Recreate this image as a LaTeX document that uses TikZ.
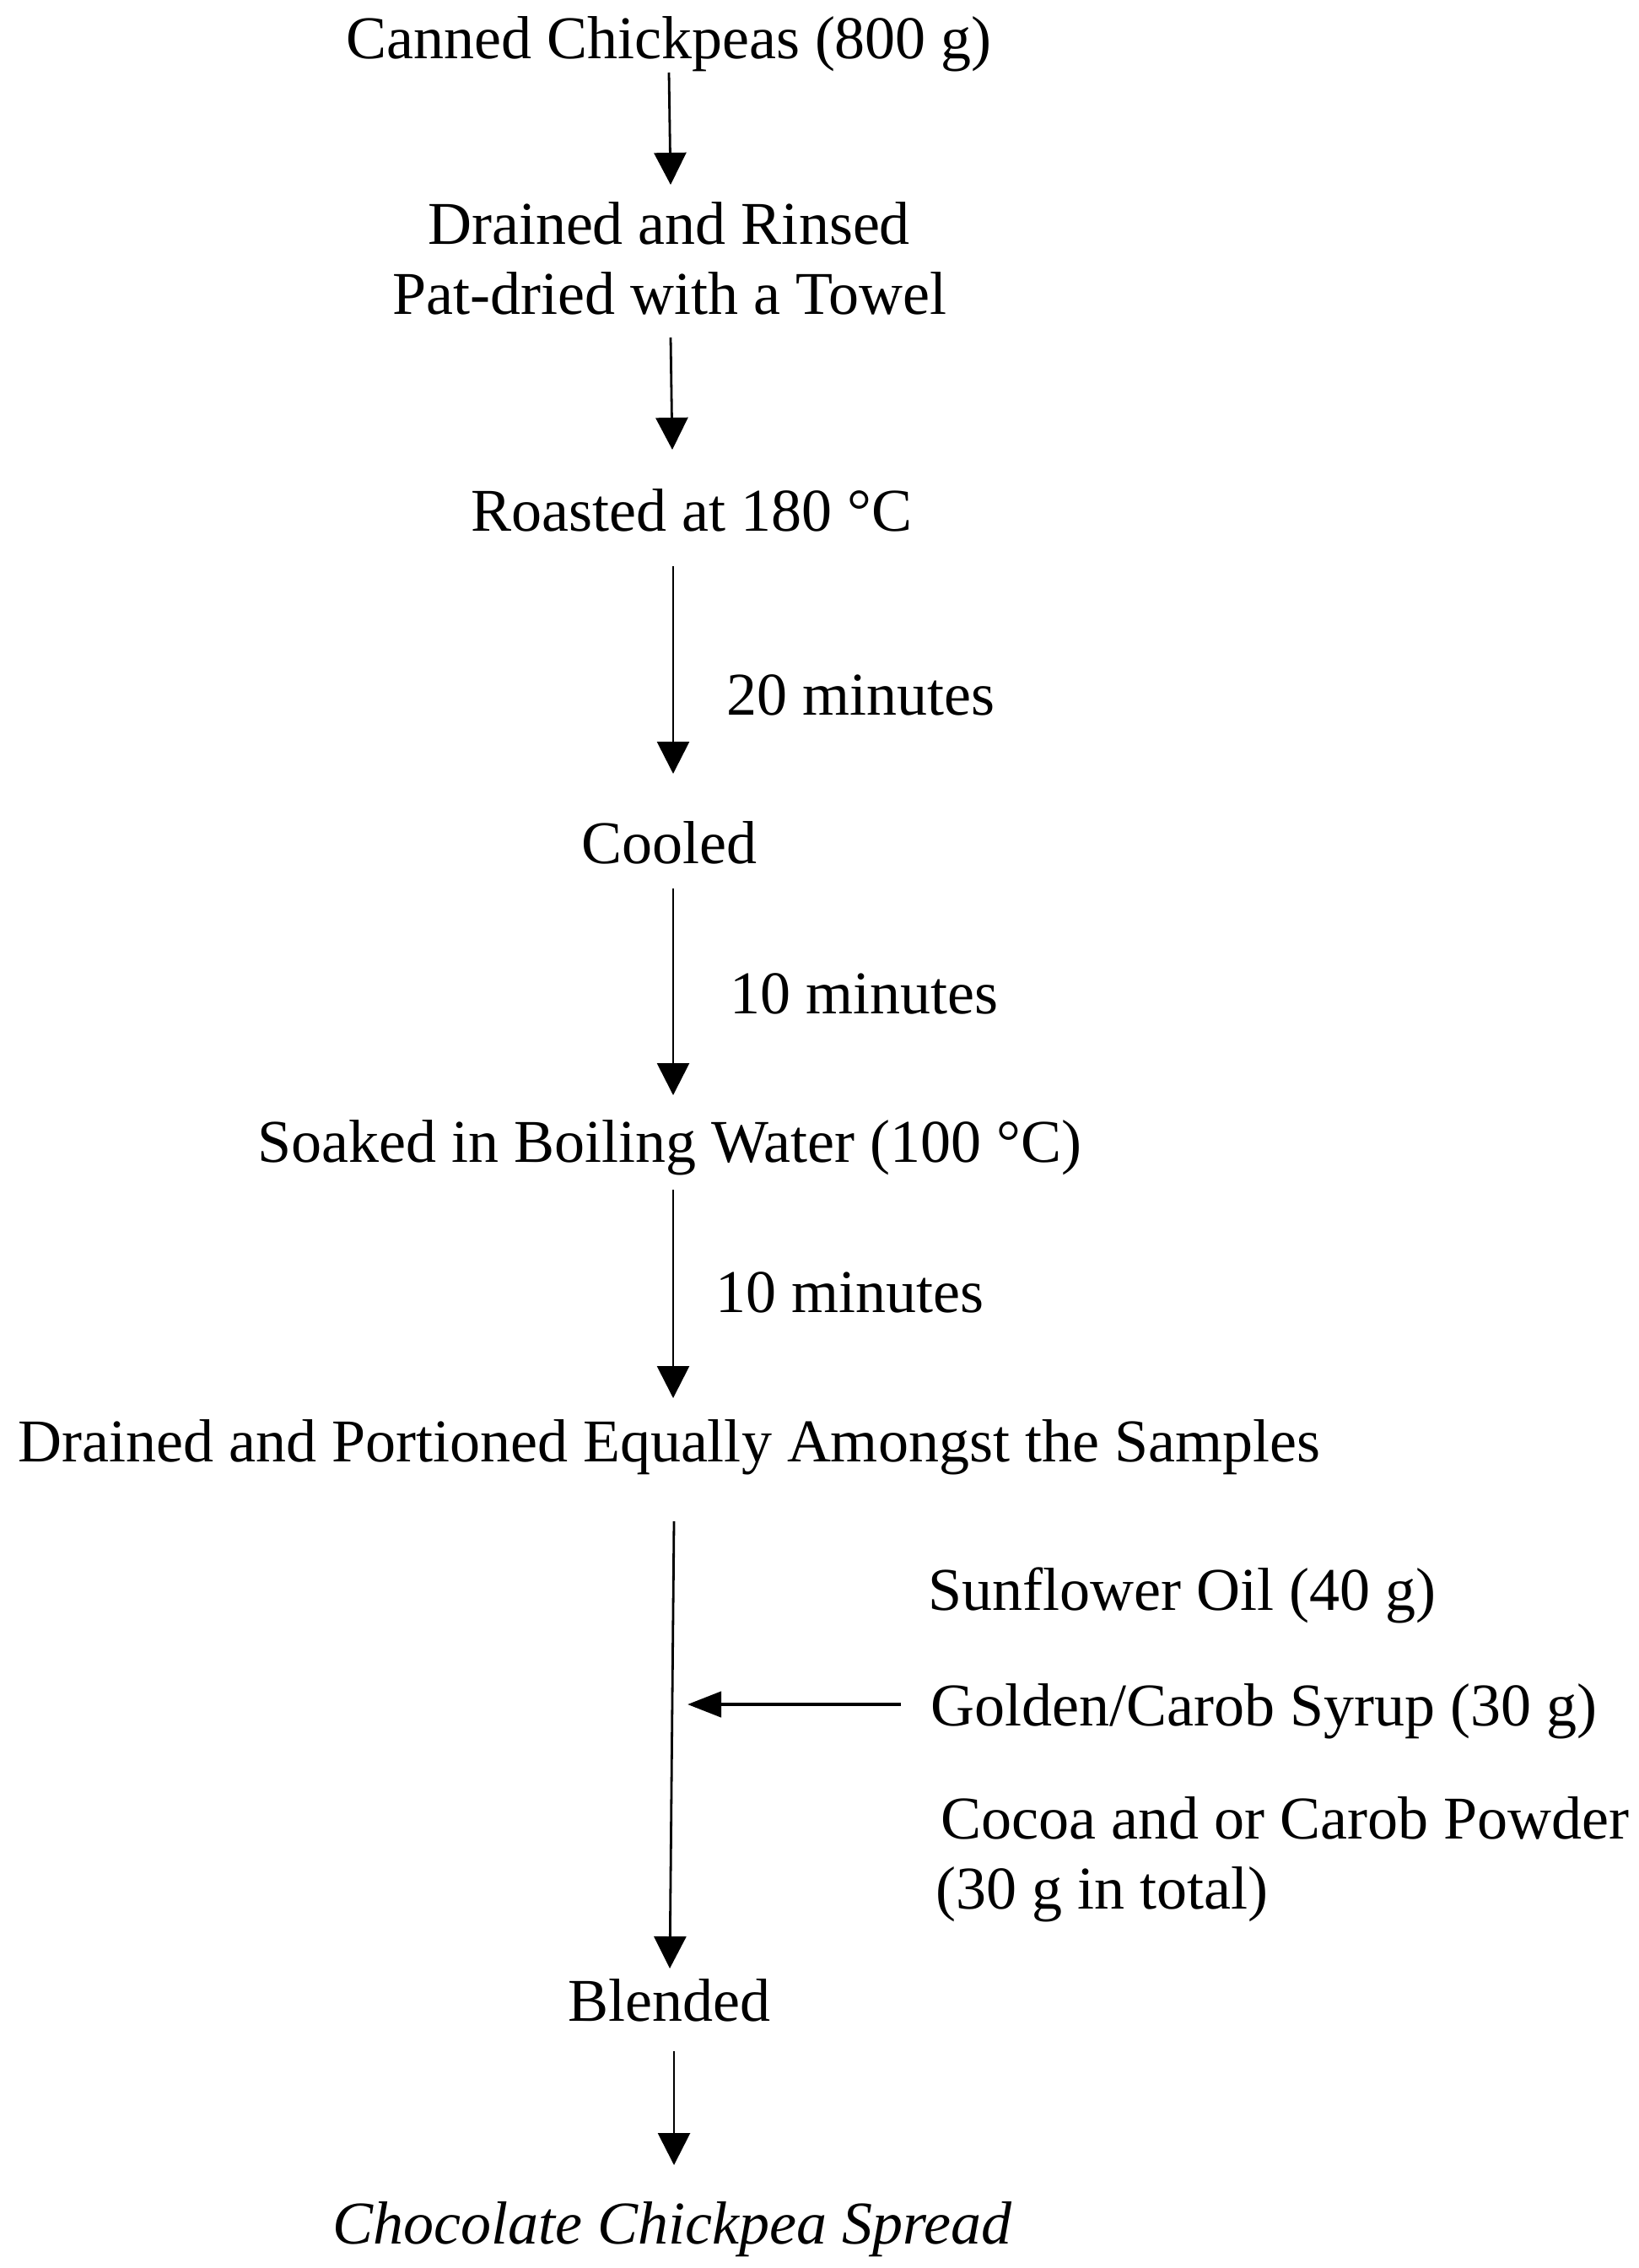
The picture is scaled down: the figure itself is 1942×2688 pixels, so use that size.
\documentclass[tikz,border=0pt]{standalone}
\usepackage{fontspec}
\setmainfont{Liberation Serif}
\usetikzlibrary{arrows.meta,calc}
\begin{document}
\begin{tikzpicture}[x=0.25pt,y=-0.25pt,
  txt/.style={inner sep=0pt, anchor=base, font=\fontsize{18}{20.75}\selectfont},
  lbl/.style={inner sep=0pt, anchor=base west, font=\fontsize{18}{20.75}\selectfont},
  flow/.style={-{Triangle[length=9.5pt,width=9.5pt]}, line width=0.7pt},
  feed/.style={-{Triangle[length=10pt,width=7.5pt]}, line width=1.1pt}]
\useasboundingbox (0,0) rectangle (1942,2688);
% main steps
\node[txt] (a)  at (793,69)   {Canned Chickpeas (800 g)};
\node[txt] (b1) at (793,289)  {Drained and Rinsed};
\node[txt] (b2) at (794,372)  {Pat-dried with a Towel};
\node[txt] (c)  at (820,629)  {Roasted at 180 °C};
\node[txt] (d)  at (793,1023) {Cooled};
\node[txt] (e)  at (794,1377) {Soaked in Boiling Water (100 °C)};
\node[txt] (f)  at (793,1732) {Drained and Portioned Equally Amongst the Samples};
\node[txt] (g)  at (793,2395) {Blended};
\node[txt] (h)  at (797,2659) {\itshape Chocolate Chickpea Spread};
% side labels
\node[lbl] (t1) at (861,847)  {20 minutes};
\node[lbl] (t2) at (865,1201) {10 minutes};
\node[lbl] (t3) at (848,1555) {10 minutes};
\node[lbl] (oil)  at (1100,1908) {Sunflower Oil (40 g)};
\node[lbl] (gold) at (1103,2045) {Golden/Carob Syrup (30 g)};
\node[lbl] (coc1) at (1115,2179) {Cocoa and or Carob Powder};
\node[lbl] (coc2) at (1109,2262) {(30 g in total)};
% connectors
\draw[flow] ($(a.base)+(0,17)$)    -- ($(b1.base)+(2,-70)$);
\draw[flow] ($(b2.base)+(1,28)$)   -- ($(c.base)+(-23,-96)$);
\draw[flow] ($(c.base)+(-22,42)$)  -- ($(d.base)+(5,-106)$);
\draw[flow] ($(d.base)+(5,30)$)    -- ($(e.base)+(4,-79)$);
\draw[flow] ($(e.base)+(4,33)$)    -- ($(f.base)+(5,-75)$);
\draw[flow] ($(f.base)+(6,71)$)    -- ($(g.base)+(1,-62)$);
\draw[flow] ($(g.base)+(6,36)$)    -- ($(h.base)+(2,-93)$);
\draw[feed] ($(gold.base west)+(-35,-25)$) -- ($(gold.base west)+(-288,-25)$);
\end{tikzpicture}
\end{document}
